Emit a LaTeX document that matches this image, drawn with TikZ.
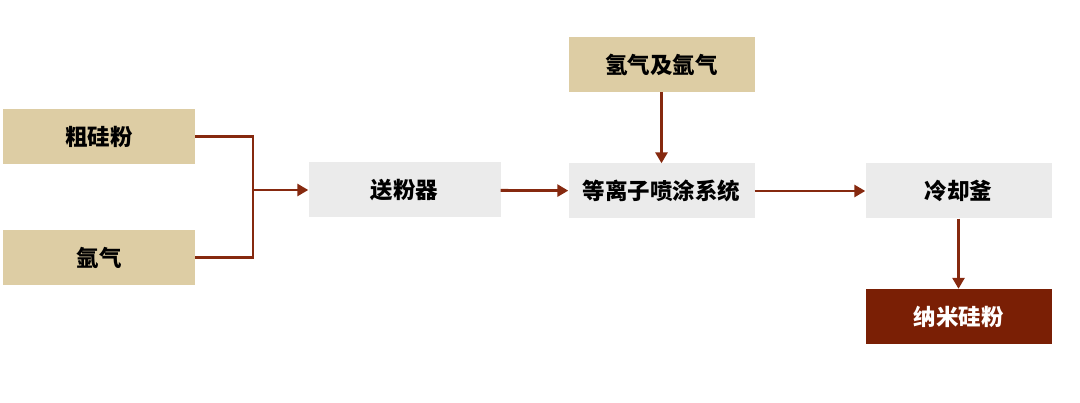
\documentclass[tikz,border=0pt]{standalone}
\usepackage{fontspec}
\newfontfamily\cjk{Noto Sans CJK SC}[BoldFont={Noto Sans CJK SC Black}]
\usetikzlibrary{arrows.meta}
\definecolor{rawtan}{HTML}{DDCDA4}
\definecolor{stepgray}{HTML}{EBEBEB}
\definecolor{darkbrown}{HTML}{7A1F05}
\definecolor{flowred}{HTML}{86290F}

\begin{document}
\begin{tikzpicture}[x=1pt,y=-1pt,
    box/.style={minimum height=55pt,inner sep=0pt,font=\cjk\bfseries\fontsize{22.5}{26}\selectfont},
    rawbox/.style={box,fill=rawtan,minimum width=192pt},
    unitbox/.style={box,fill=stepgray,minimum width=186pt},
    endbox/.style={box,fill=darkbrown,text=white,minimum width=186pt},
    wire/.style={draw=flowred,line width=2.8pt},
    flow/.style={wire,-{Triangle[length=11pt,width=12pt]}}]
                \useasboundingbox (0,0) rectangle (1080,403);
                \node[rawbox] (crude) at (99,136.5) {粗硅粉};
                \node[rawbox] (argon) at (99,257.5) {氩气};
                \node[unitbox,minimum width=192pt] (feeder) at (404.5,190) {送粉器};
                \node[rawbox,minimum width=186pt] (gas) at (661.5,64.5) {氢气及氩气};
                \node[unitbox] (plasma) at (661.5,191) {等离子喷涂系统};
                \node[unitbox] (cooler) at (958.5,191) {冷却釜};
                \node[endbox] (nano) at (958.5,316.5) {纳米硅粉};
                \coordinate (join) at (253,190);
                \draw[wire] (crude.east) -| (join);
                \draw[wire] (argon.east) -| (join);
                \draw[flow] (join) -- (feeder.west);
                \draw[flow] (feeder) -- (plasma);
                \draw[flow] (gas) -- (plasma);
                \draw[flow] (plasma) -- (cooler);
                \draw[flow] (cooler) -- (nano);
            \end{tikzpicture}
\end{document}
